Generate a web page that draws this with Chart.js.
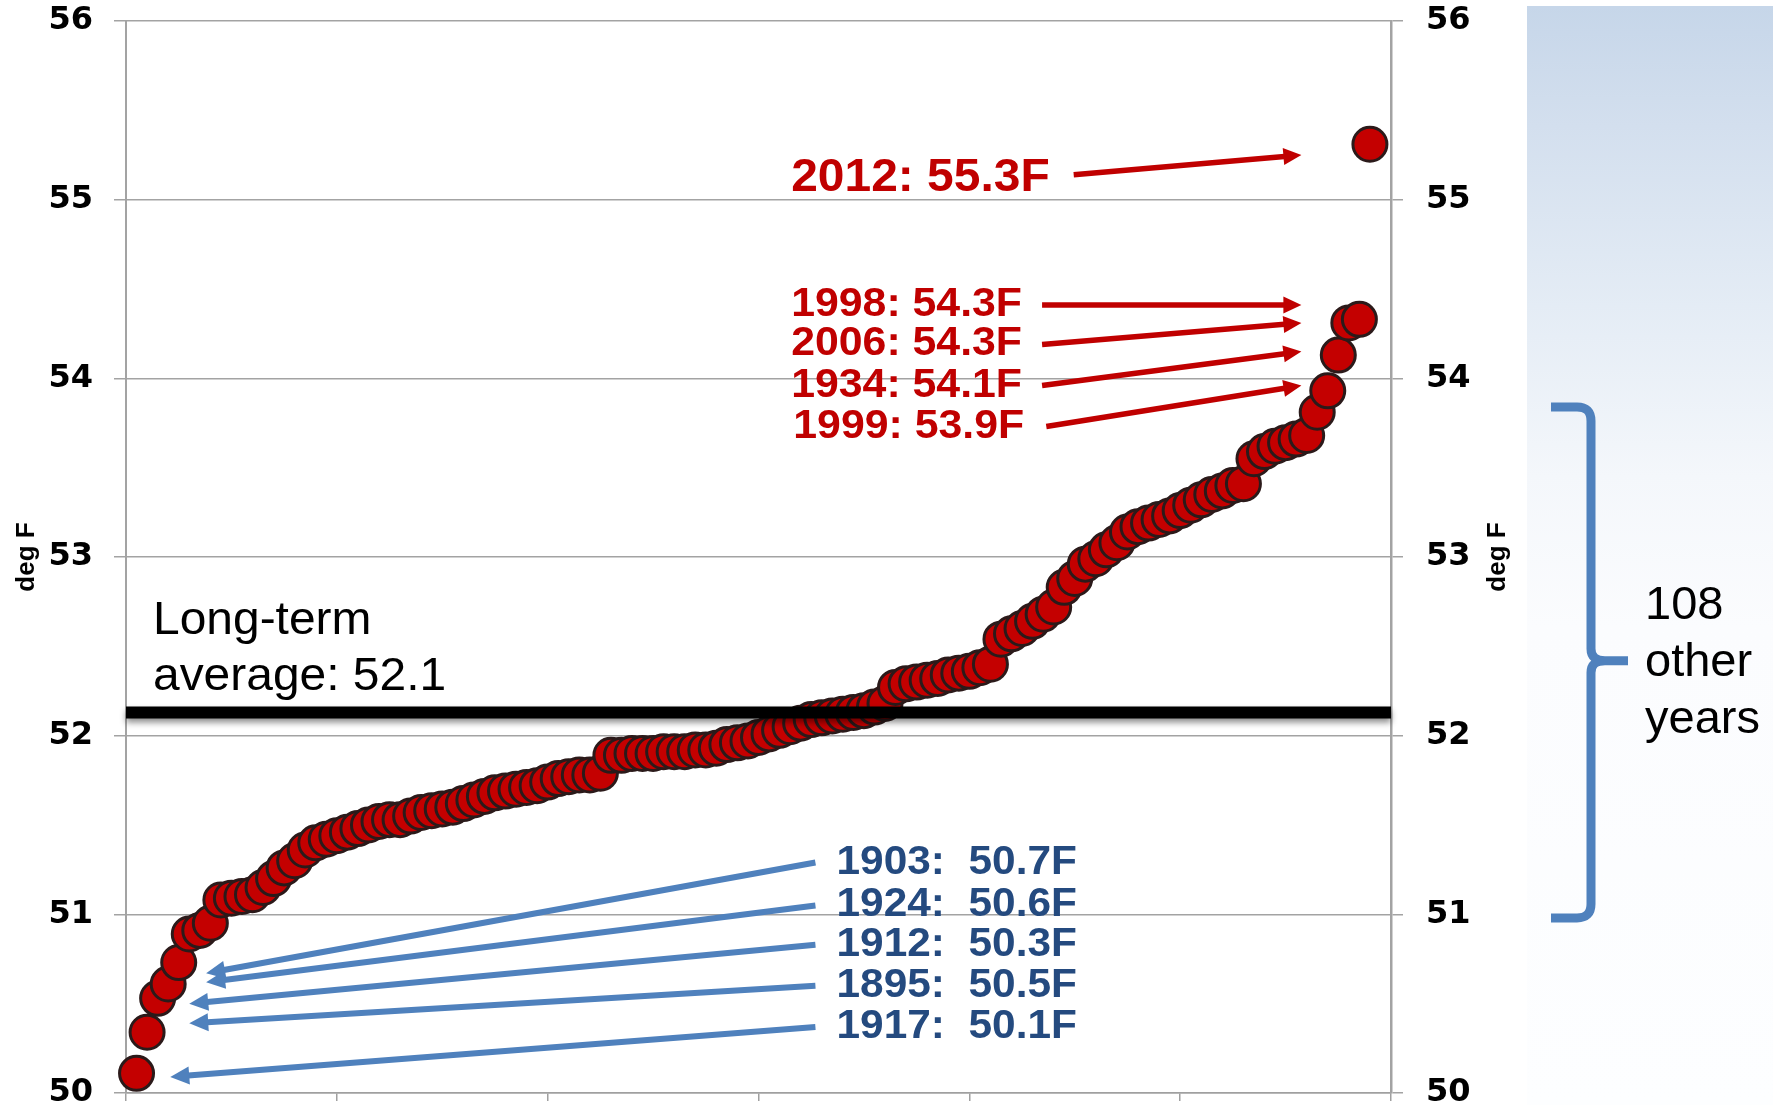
<!DOCTYPE html>
<html>
<head>
<meta charset="utf-8">
<script src="https://cdn.jsdelivr.net/npm/chart.js@4.4.1/dist/chart.umd.min.js"></script>
<style>
html,body{margin:0;padding:0;background:#fff;width:1773px;height:1105px;overflow:hidden;}
#panel{position:absolute;left:1527px;top:6px;width:246px;height:1099px;
  background:linear-gradient(to bottom,#c6d6e9 0px,#d3dfee 120px,#e4ecf5 300px,#f4f7fb 470px,#fbfcfe 620px,#fdfeff 1099px);}
#wrap{position:absolute;left:0;top:0;width:1773px;height:1105px;}
</style>
</head>
<body>
<div id="panel"></div>
<div id="wrap"><canvas id="c" width="1773" height="1105"></canvas></div>
<script>
// Annual mean temperatures (deg F), ranked coldest to warmest, 1895-2012
const rankedTemps = [
  50.11, 50.34, 50.53, 50.61, 50.73, 50.89, 50.91, 50.95, 51.08, 51.09,
  51.10, 51.11, 51.15, 51.20, 51.26, 51.30, 51.36, 51.40, 51.42, 51.44,
  51.46, 51.48, 51.50, 51.52, 51.53, 51.53, 51.55, 51.57, 51.58, 51.59,
  51.60, 51.62, 51.64, 51.66, 51.68, 51.69, 51.70, 51.71, 51.72, 51.74,
  51.76, 51.77, 51.78, 51.78, 51.79, 51.89, 51.89, 51.90, 51.90, 51.90,
  51.91, 51.91, 51.91, 51.92, 51.92, 51.93, 51.95, 51.96, 51.97, 51.99,
  52.01, 52.03, 52.05, 52.07, 52.09, 52.10, 52.11, 52.12, 52.13, 52.14,
  52.16, 52.18, 52.27, 52.29, 52.30, 52.31, 52.32, 52.34, 52.35, 52.36,
  52.38, 52.40, 52.54, 52.57, 52.60, 52.64, 52.68, 52.72, 52.83, 52.88,
  52.96, 52.99, 53.04, 53.08, 53.14, 53.17, 53.19, 53.21, 53.23, 53.26,
  53.29, 53.32, 53.35, 53.37, 53.40, 53.41, 53.55, 53.59, 53.62, 53.64,
  53.66, 53.68, 53.81, 53.93, 54.13, 54.31, 54.33, 55.31
];
const longTermAverage = 52.13;
const yTicks = [50, 51, 52, 53, 54, 55, 56];
const axisTitle = 'deg F';
const averageLabel = ['Long-term', 'average: 52.1'];
const warmLabels = ['2012: 55.3F', '1998: 54.3F', '2006: 54.3F', '1934: 54.1F', '1999: 53.9F'];
const coldLabels = ['1903:  50.7F', '1924:  50.6F', '1912:  50.3F', '1895:  50.5F', '1917:  50.1F'];
const braceLabel = ['108', 'other', 'years'];

// annotation anchors (rank, deg F)
const warmLabelAt = [[63.1, 55.12], [63.1, 54.41], [63.1, 54.19], [63.1, 53.96], [63.3, 53.73]];
const warmArrows = [[89.9, 55.14, 111.5, 55.25], [86.9, 54.41, 111.5, 54.41], [86.9, 54.19, 111.5, 54.31],
                    [86.9, 53.96, 111.5, 54.15], [87.3, 53.73, 111.5, 53.96]];
const coldLabelAt = [[67.4, 51.29], [67.4, 51.05], [67.4, 50.83], [67.4, 50.60], [67.4, 50.37]];
const coldArrows = [[65.4, 51.29, 7.6, 50.67], [65.4, 51.05, 7.6, 50.62], [65.4, 50.83, 6.0, 50.50],
                    [65.4, 50.60, 6.0, 50.39], [65.4, 50.37, 4.2, 50.09]];
const averageLabelAt = [2.56, 52.64, 52.33];
const braceRange = [53.84, 52.42, 50.98];
const braceTextAt = [52.725, 52.406, 52.087];

const points = rankedTemps.map((t, i) => ({x: i + 1, y: t}));

function arrow(ctx, x1, y1, x2, y2, color, lw, hl, hw) {
  const a = Math.atan2(y2 - y1, x2 - x1);
  const bx = x2 - hl * Math.cos(a), by = y2 - hl * Math.sin(a);
  ctx.save();
  ctx.strokeStyle = color; ctx.fillStyle = color; ctx.lineWidth = lw; ctx.lineCap = 'butt';
  ctx.beginPath(); ctx.moveTo(x1, y1); ctx.lineTo(bx + 1 * Math.cos(a), by + 1 * Math.sin(a)); ctx.stroke();
  ctx.beginPath();
  ctx.moveTo(x2, y2);
  ctx.lineTo(bx + hw / 2 * Math.sin(a), by - hw / 2 * Math.cos(a));
  ctx.lineTo(bx - hw / 2 * Math.sin(a), by + hw / 2 * Math.cos(a));
  ctx.closePath(); ctx.fill();
  ctx.restore();
}
function text(ctx, s, x, y, font, color, sx, rot) {
  ctx.save();
  ctx.translate(x, y);
  if (rot) ctx.rotate(rot);
  ctx.scale(sx || 1, 1);
  ctx.font = font; ctx.fillStyle = color; ctx.textBaseline = 'middle';
  ctx.fillText(s, 0, 0);
  ctx.restore();
}

const shadowPlugin = {
  id: 'lineShadow',
  beforeDatasetDraw(chart, args) {
    if (args.index === 0) {
      const ctx = chart.ctx; ctx.save();
      ctx.shadowColor = 'rgba(0,0,0,0.45)'; ctx.shadowBlur = 6; ctx.shadowOffsetY = 4;
    }
  },
  afterDatasetDraw(chart, args) { if (args.index === 0) chart.ctx.restore(); }
};

const annot = {
  id: 'annot',
  afterDraw(chart) {
    const ctx = chart.ctx, xs = chart.scales.x, ys = chart.scales.y;
    const X = v => xs.getPixelForValue(v), Y = v => ys.getPixelForValue(v);
    const area = chart.chartArea;
    // axis titles
    const midY = (area.top + area.bottom) / 2;
    ctx.save(); ctx.textAlign = 'center';
    text(ctx, axisTitle, 27, midY, 'bold 26px "Liberation Sans"', '#000', 1, -Math.PI / 2);
    text(ctx, axisTitle, area.right + 107, midY, 'bold 26px "Liberation Sans"', '#000', 1, -Math.PI / 2);
    ctx.restore();
    // average label
    ctx.textAlign = 'left';
    averageLabel.forEach((s, i) => text(ctx, s, X(averageLabelAt[0]), Y(averageLabelAt[i + 1]), '47px "Liberation Sans"', '#000', 1.02));
    // warm labels and arrows
    warmLabels.forEach((s, i) => {
      const f = i === 0 ? 'bold 47px "Liberation Sans"' : 'bold 40px "Liberation Sans"';
      text(ctx, s, X(warmLabelAt[i][0]), Y(warmLabelAt[i][1]), f, '#c00000', i === 0 ? 1.02 : 1.07);
      const a = warmArrows[i];
      arrow(ctx, X(a[0]), Y(a[1]), X(a[2]), Y(a[3]), '#c00000', 5.5, 18, 17);
    });
    coldLabels.forEach((s, i) => {
      text(ctx, s, X(coldLabelAt[i][0]), Y(coldLabelAt[i][1]), 'bold 40px "Liberation Sans"', '#244a7f', 1.06);
      const a = coldArrows[i];
      arrow(ctx, X(a[0]), Y(a[1]), X(a[2]), Y(a[3]), '#4f81bd', 6, 19, 18);
    });
    // brace
    const xe = area.right + 160, xs2 = area.right + 200, xt = area.right + 237;
    const yt = Y(braceRange[0]), ym = Y(braceRange[1]), yb = Y(braceRange[2]);
    ctx.save();
    ctx.strokeStyle = '#4f81bd'; ctx.lineWidth = 9; ctx.lineJoin = 'round';
    ctx.beginPath();
    ctx.moveTo(xe, yt);
    ctx.lineTo(xs2 - 14, yt);
    ctx.quadraticCurveTo(xs2, yt, xs2, yt + 14);
    ctx.lineTo(xs2, ym - 12);
    ctx.quadraticCurveTo(xs2, ym, xs2 + 14, ym);
    ctx.lineTo(xt, ym);
    ctx.moveTo(xs2 + 14, ym);
    ctx.quadraticCurveTo(xs2, ym, xs2, ym + 12);
    ctx.lineTo(xs2, yb - 14);
    ctx.quadraticCurveTo(xs2, yb, xs2 - 14, yb);
    ctx.lineTo(xe, yb);
    ctx.stroke();
    ctx.restore();
    braceLabel.forEach((s, i) => text(ctx, s, area.right + 254, Y(braceTextAt[i]), '47px "Liberation Sans"', '#000'));
  }
};

function noPad(s) { s.paddingTop = 0; s.paddingBottom = 0; s.paddingLeft = 0; s.paddingRight = 0; }

Chart.defaults.font.family = '"Liberation Sans", Arial, sans-serif';
new Chart(document.getElementById('c'), {
  type: 'scatter',
  data: {
    datasets: [
      {
        type: 'line',
        data: [{x: 0, y: longTermAverage}, {x: 120, y: longTermAverage}],
        borderColor: '#000', borderWidth: 12, pointRadius: 0, order: 0, clip: false
      },
      {
        data: points,
        backgroundColor: '#c40000', borderColor: '#2b1a1a', borderWidth: 3,
        pointRadius: 17, pointHoverRadius: 17, order: 1, clip: false
      }
    ]
  },
  options: {
    responsive: false, devicePixelRatio: 1, animation: false,
    layout: {autoPadding: false, padding: {top: 21, left: 0, right: 0, bottom: 0}},
    plugins: {legend: {display: false}, tooltip: {enabled: false}},
    scales: {
      x: {
        type: 'linear', min: 0, max: 120,
        ticks: {display: false, stepSize: 20},
        grid: {drawOnChartArea: false, drawTicks: true, tickLength: 8, color: '#a0a0a0', lineWidth: 1.5},
        border: {display: true, color: '#a0a0a0', width: 1.5},
        afterFit(s) { s.height = 12; noPad(s); }
      },
      y: {
        position: 'left', min: 50, max: 56,
        afterBuildTicks(s) { s.ticks = yTicks.map(v => ({value: v})); },
        ticks: {padding: 21, color: '#000', font: {family: '"DejaVu Sans"', weight: 'bold', size: 32, lineHeight: 0.8}},
        grid: {color: '#a3a3a3', lineWidth: 1.5, tickLength: 12},
        border: {color: '#a3a3a3', width: 2},
        afterFit(s) { s.width = 126; noPad(s); }
      },
      y2: {
        position: 'right', min: 50, max: 56,
        afterBuildTicks(s) { s.ticks = yTicks.map(v => ({value: v})); },
        ticks: {padding: 23, color: '#000', font: {family: '"DejaVu Sans"', weight: 'bold', size: 32, lineHeight: 0.8}},
        grid: {drawOnChartArea: false, color: '#a3a3a3', lineWidth: 1.5, tickLength: 12},
        border: {color: '#a3a3a3', width: 2.5},
        afterFit(s) { s.width = 382; noPad(s); }
      }
    }
  },
  plugins: [shadowPlugin, annot]
});
</script>
</body>
</html>
